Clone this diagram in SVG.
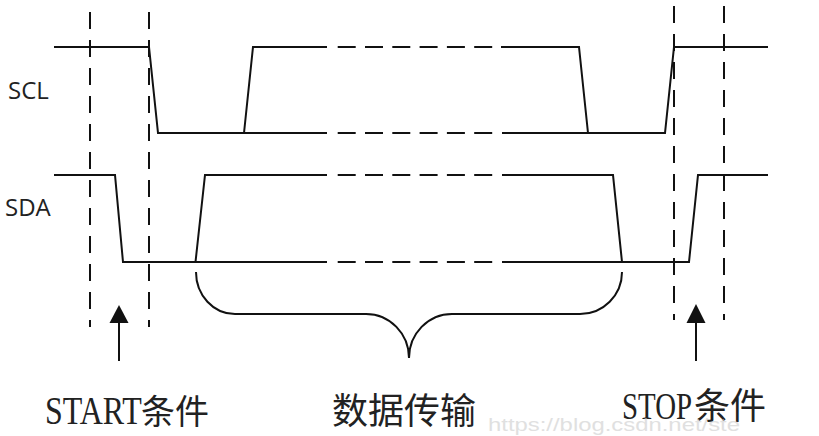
<svg xmlns="http://www.w3.org/2000/svg" width="819" height="436" viewBox="0 0 819 436">
<style>
.sig{fill:none;stroke:#111;stroke-width:2;stroke-linejoin:miter}
.dsh{fill:none;stroke:#111;stroke-width:2;stroke-dasharray:18 9.3}
.vd{fill:none;stroke:#111;stroke-width:2;stroke-dasharray:17 11}
.lbl{font-family:"Open Sans","DejaVu Sans",sans-serif;font-size:24px;fill:#222}
.lat{font-family:"Liberation Serif",serif;fill:#222}
.cjk{font-family:"Noto Sans CJK SC",sans-serif;fill:#222}
.wm{font-family:"Liberation Sans",sans-serif;font-size:18px;fill:#ccc;opacity:0.6}
</style>
<rect width="819" height="436" fill="#fff"/>

<g id="guides">
<line class="vd" x1="90" y1="12" x2="90" y2="327"/>
<line class="vd" x1="149" y1="12" x2="149" y2="327"/>
<line class="vd" x1="674" y1="6" x2="674" y2="320"/>
<line class="vd" x1="724" y1="6" x2="724" y2="320"/>
</g>

<g id="scl">
<text class="lbl" x="8" y="99">SCL</text>
<polyline class="sig" points="54,47 149,47 158,133 327,133"/>
<polyline class="sig" points="244,133 253,47 327,47"/>
<line class="dsh" x1="337.7" y1="47" x2="492.5" y2="47"/>
<line class="dsh" x1="337.7" y1="133" x2="492.5" y2="133"/>
<polyline class="sig" points="501,47 579,47 588,133"/>
<polyline class="sig" points="502,133 665,133 674,47 768,47"/>
</g>

<g id="sda">
<text class="lbl" x="5" y="216">SDA</text>
<polyline class="sig" points="54,175 115,175 123,262 327,262"/>
<polyline class="sig" points="195.5,262 205,175 327,175"/>
<line class="dsh" x1="337.7" y1="175" x2="492.5" y2="175"/>
<line class="dsh" x1="337.7" y1="262" x2="492.5" y2="262"/>
<polyline class="sig" points="502,175 613,175 622,262"/>
<polyline class="sig" points="502,262 689,262 698,175 768,175"/>
</g>

<g id="connectors">
<path class="sig" d="M196,272 A39 42 0 0 0 235,314 L366,314 A43 44 0 0 1 409,358 A43 44 0 0 1 452,314 L580,314 A42 42 0 0 0 622,272"/>
<line class="sig" x1="119" y1="361" x2="119" y2="320"/>
<polygon points="119,305 109.5,323 128.5,323" fill="#111"/>
<line class="sig" x1="696" y1="361" x2="696" y2="320"/>
<polygon points="696,304 686.5,323 705.5,323" fill="#111"/>
</g>

<g id="start-label">
<text class="lat" transform="translate(45,424) scale(0.82,1)" font-size="39">START</text>
<text class="cjk" x="141" y="424" font-size="34">条件</text>
</g>
<g id="data-label">
<text class="cjk" x="332" y="424" font-size="36">数据传输</text>
</g>
<g id="stop-label">
<text class="lat" transform="translate(622,419) scale(0.76,1)" font-size="38">STOP</text>
<text class="cjk" x="694" y="419" font-size="36">条件</text>
</g>
<text class="wm" x="488" y="431" textLength="252" lengthAdjust="spacingAndGlyphs">https://blog.csdn.net/ste</text>
</svg>
